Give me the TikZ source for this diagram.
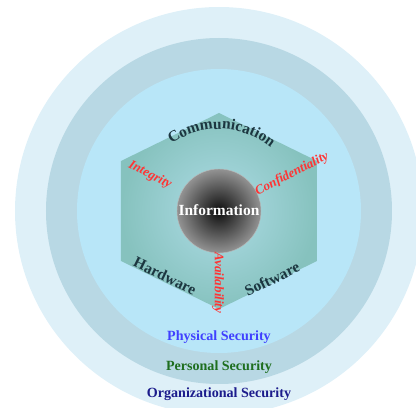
\documentclass[tikz,border=0pt]{standalone}
\usepackage{fontspec}
\setmainfont{Liberation Serif}
\usepackage{tikz}
\usetikzlibrary{decorations.text}
\definecolor{ringout}{HTML}{DEF0F8}
\definecolor{ringmid}{HTML}{B8D8E4}
\definecolor{ringin}{HTML}{B8E6F8}
\definecolor{hexin}{HTML}{AEDCE6}
\definecolor{hexout}{HTML}{86C2BE}
\definecolor{slate}{HTML}{1C3640}
\definecolor{propred}{HTML}{FF3434}
\definecolor{physblue}{HTML}{4040FF}
\definecolor{persgreen}{HTML}{1E6E1E}
\definecolor{orgnavy}{HTML}{1C1C8C}

\begin{document}
\begin{tikzpicture}[x=0.025cm,y=0.025cm,
 side/.style={text=slate,inner sep=0.5pt,font=\fontsize{11}{13}\selectfont\bfseries},
 prop/.style={text=propred,inner sep=0.5pt,font=\fontsize{9.3}{11}\selectfont\bfseries\itshape},
 layer/.style={font=\fontsize{10}{12}\selectfont\bfseries}]

 \clip (-219,-197) rectangle (197,211);
 \fill[ringout] (0,0) circle (204);
 \fill[ringmid] (0,0) circle (173);
 \fill[ringin] (0,0) circle (142);
 \shade[inner color=hexin, outer color=hexout] (0,98) -- (-98,50) -- (-98,-50) -- (0,-98) -- (98,-50) -- (98,50) -- cycle;
 \shade[inner color=black!95, outer color=gray!85, draw=gray!55, line width=0.3pt] (0,0) circle (42);
 \path (0,1) node(info)[text=white,font=\fontsize{11}{13}\selectfont\bfseries]{Information};

 % sides of the hexagon
 \path[decorate, decoration={text along path, text align=center, text color=slate,
   text={|\fontsize{11}{13}\selectfont\bfseries|Communication}}]
   (142:82) arc[start angle=142, end angle=34, radius=82];
 \path (-54,-65) node(hw)[side,rotate=-26]{Hardware};
 \path (53,-68) node(sw)[side,rotate=26]{Software};

 \path (-69,36) node(integ)[prop,rotate=-27]{Integrity};
 \path (73,37) node(conf)[prop,rotate=27]{Confidentiality};
 \path (-1,-72) node(avail)[prop,rotate=-90]{Availability};

 \path (0,-126) node(phys)[layer,text=physblue]{Physical Security};
 \path (0,-156) node(pers)[layer,text=persgreen]{Personal Security};
 \path (0,-183) node(org)[layer,text=orgnavy]{Organizational Security};
\end{tikzpicture}
\end{document}
